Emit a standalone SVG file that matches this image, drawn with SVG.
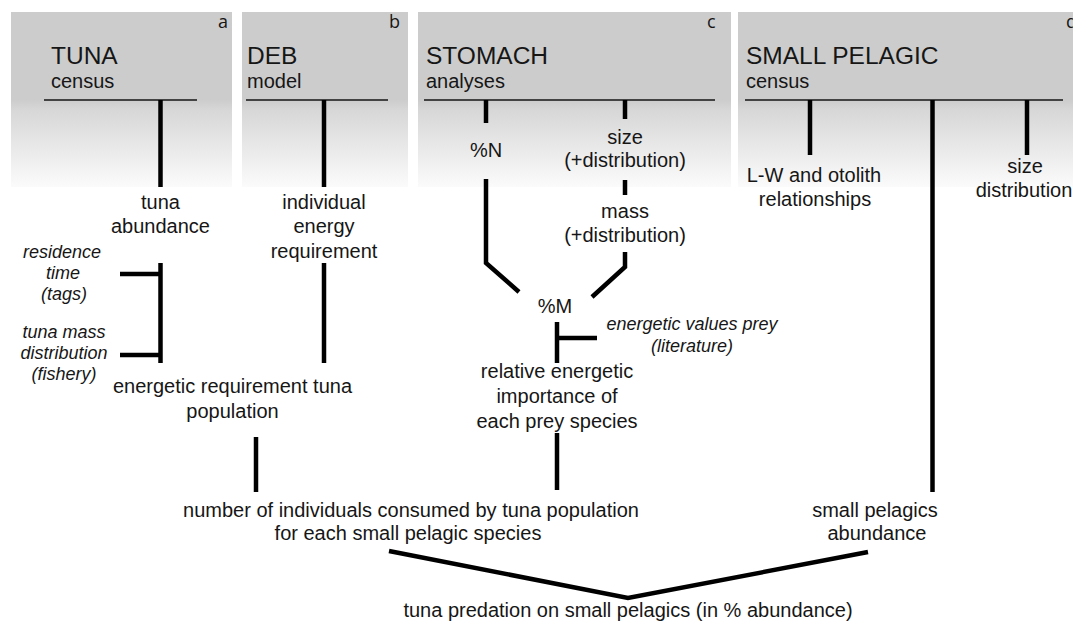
<svg xmlns="http://www.w3.org/2000/svg" width="1073" height="626" viewBox="0 0 1073 626">
<defs>
<linearGradient id="pg" x1="0" y1="0" x2="0" y2="1">
<stop offset="0" stop-color="#cccccc"/>
<stop offset="0.5" stop-color="#cccccc"/>
<stop offset="0.56" stop-color="#d7d7d7"/>
<stop offset="1" stop-color="#fbfbfb"/>
</linearGradient>
</defs>
<style>
text{font-family:"Liberation Sans",Arial,sans-serif;fill:#161616;}
.t{font-size:20px;text-anchor:middle;}
.i{font-size:18px;font-style:italic;text-anchor:middle;}
.h{font-size:24.5px;}
.s{font-size:20px;}
.l{font-family:"Open Sans","Liberation Sans",sans-serif;font-size:18px;}
.panel{fill:url(#pg);}
.hl{stroke:#141414;stroke-width:1.6;fill:none;}
.c{stroke:#000;stroke-width:4.5;fill:none;stroke-linecap:butt;stroke-linejoin:miter;}
</style>
<rect width="1073" height="626" fill="#fff"/>
<g id="panel-a">
<rect class="panel" x="11" y="12" width="221" height="175"/>
<text class="l" x="218" y="28">a</text>
<text class="h" x="51" y="64">TUNA</text>
<text class="s" x="51" y="88">census</text>
<line class="hl" x1="44" y1="100" x2="197" y2="100"/>
</g>
<g id="panel-b">
<rect class="panel" x="242" y="12" width="166" height="175"/>
<text class="l" x="389" y="28">b</text>
<text class="h" x="247" y="64">DEB</text>
<text class="s" x="247" y="88">model</text>
<line class="hl" x1="246" y1="100" x2="388" y2="100"/>
</g>
<g id="panel-c">
<rect class="panel" x="418" y="12" width="313" height="175"/>
<text class="l" x="707" y="28">c</text>
<text class="h" x="426" y="64">STOMACH</text>
<text class="s" x="426" y="88">analyses</text>
<line class="hl" x1="424" y1="100" x2="715" y2="100"/>
</g>
<g id="panel-d">
<rect class="panel" x="738" y="12" width="335" height="175"/>
<text class="l" x="1066" y="28">d</text>
<text class="h" x="746" y="64">SMALL PELAGIC</text>
<text class="s" x="746" y="88">census</text>
<line class="hl" x1="745" y1="100" x2="1063" y2="100"/>
</g>
<g id="connectors">
<path class="c" d="M160.5 100V187"/>
<path class="c" d="M324 100V187"/>
<path class="c" d="M486 100V123"/>
<path class="c" d="M625 100V119"/>
<path class="c" d="M810 100V155"/>
<path class="c" d="M932.5 100V492"/>
<path class="c" d="M1027 100V155"/>
<path class="c" d="M160.5 263V363"/>
<path class="c" d="M120 274H160.5"/>
<path class="c" d="M120 355H160.5"/>
<path class="c" d="M324 263V363"/>
<path class="c" d="M486 179V263L519 292"/>
<path class="c" d="M625 180V195"/>
<path class="c" d="M625 252V267L592 297"/>
<path class="c" d="M557 322V363"/>
<path class="c" d="M557 338H597"/>
<path class="c" d="M256 437V492"/>
<path class="c" d="M557 433V490"/>
<path class="c" d="M389 551L628 598L868 552"/>
</g>
<g id="tuna-abundance"><text class="t" x="160.5" y="209">tuna</text><text class="t" x="160.5" y="233">abundance</text></g>
<g id="individual-energy"><text class="t" x="324" y="209">individual</text><text class="t" x="324" y="233">energy</text><text class="t" x="324" y="258">requirement</text></g>
<g id="residence-time"><text class="i" x="62" y="258">residence</text><text class="i" x="63" y="279">time</text><text class="i" x="64" y="300">(tags)</text></g>
<g id="tuna-mass"><text class="i" x="64" y="338">tuna mass</text><text class="i" x="64" y="359">distribution</text><text class="i" x="64" y="380">(fishery)</text></g>
<g id="energetic-requirement"><text class="t" x="232.5" y="393">energetic requirement tuna</text><text class="t" x="232.5" y="418">population</text></g>
<g id="pct-n"><text class="t" x="486" y="157">%N</text></g>
<g id="size-dist"><text class="t" x="625" y="144">size</text><text class="t" x="625" y="167">(+distribution)</text></g>
<g id="mass-dist"><text class="t" x="625" y="218">mass</text><text class="t" x="625" y="242">(+distribution)</text></g>
<g id="pct-m"><text class="t" x="555" y="313">%M</text></g>
<g id="energetic-values"><text class="i" x="692" y="330">energetic values prey</text><text class="i" x="692" y="352">(literature)</text></g>
<g id="relative-importance"><text class="t" x="557" y="378">relative energetic</text><text class="t" x="557" y="403">importance of</text><text class="t" x="557" y="428">each prey species</text></g>
<g id="lw-otolith"><text class="t" x="814" y="182">L-W and otolith</text><text class="t" x="815" y="206">relationships</text></g>
<g id="size-distribution"><text class="t" x="1025" y="173">size</text><text class="t" x="1024" y="197">distribution</text></g>
<g id="number-consumed"><text class="t" x="411" y="517">number of individuals consumed by tuna population</text><text class="t" x="408" y="540">for each small pelagic species</text></g>
<g id="small-pelagics-abundance"><text class="t" x="875" y="517">small pelagics</text><text class="t" x="877" y="540">abundance</text></g>
<g id="tuna-predation"><text class="t" x="628" y="617">tuna predation on small pelagics (in % abundance)</text></g>
</svg>
